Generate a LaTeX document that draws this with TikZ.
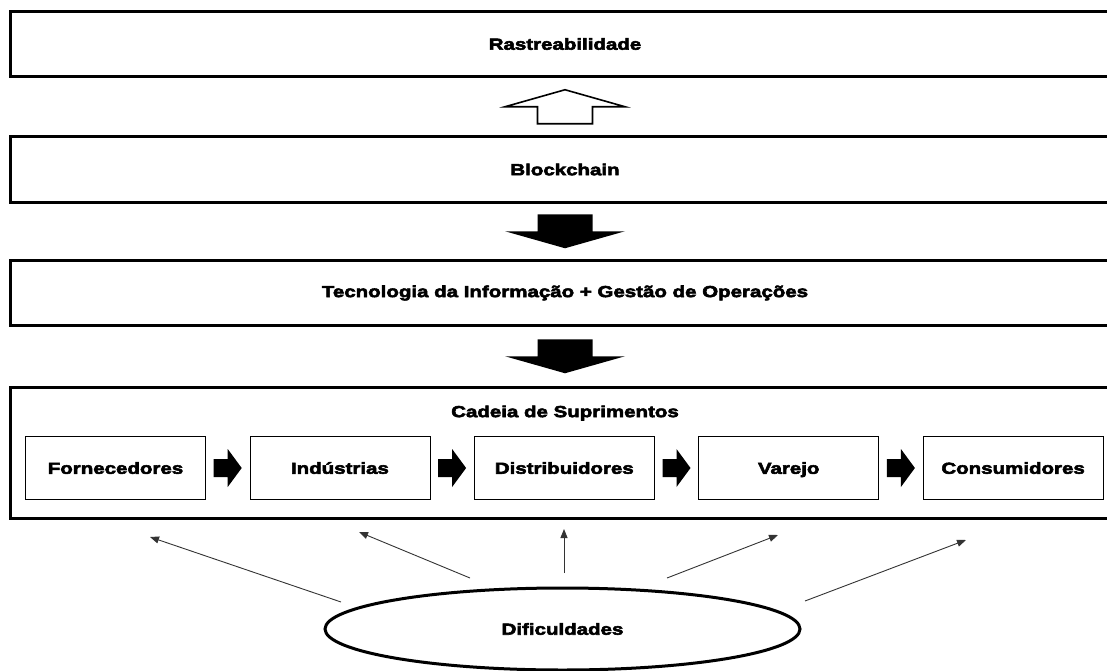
\documentclass[tikz,border=0pt]{standalone}
\usepackage{fontspec}
\setmainfont{Liberation Sans}[BoldFeatures={FakeStretch=1.28,FakeBold=3.5}]
\usetikzlibrary{shapes.geometric,arrows.meta,calc}

\tikzset{
    heavy/.style={font=\bfseries\fontsize{16}{19}\selectfont},
    bigbox/.style={draw, line width=3pt, minimum width=1110pt, minimum height=65pt, heavy},
    stagebox/.style={draw, line width=0.8pt, minimum width=180pt, minimum height=63pt, text height=11.6pt, text depth=0pt, heavy},
    tinyarrow/.style={draw=black!80, line width=0.9pt, -{Triangle[length=9pt,width=7pt]}},
}

\begin{document}
\begin{tikzpicture}[x=1pt, y=-1pt]
    \clip (0,0) rectangle (1107,671);

    % the layers, top to bottom
    \node[bigbox] (rast) at (565,44) {Rastreabilidade};
    \node[bigbox] (block) at (565,169.5) {Blockchain};
    \node[bigbox] (tec) at (565,293) {Tecnologia da Informação + Gestão de Operações};
    \node[bigbox, minimum height=131pt] (chain) at (565,452.5) {};
    \node[heavy] (cadeia) at (565,413) {Cadeia de Suprimentos};

    % hollow arrow up, solid arrows down
    \draw[fill=white, line width=1.6pt] ($(rast.south)!0.5!(block.north)$)
        ++(0,-17) -- ++(60,17) -- ++(-32.5,0) -- ++(0,17) -- ++(-55,0) -- ++(0,-17) -- ++(-32.5,0) -- cycle;
    \foreach \a/\b in {block/tec, tec/chain}
        \fill ($(\a.south)!0.5!(\b.north)$)
            ++(-27.5,-17) -- ++(55,0) -- ++(0,17) -- ++(32.5,0) -- ++(-60,17) -- ++(-60,-17) -- ++(32.5,0) -- cycle;

    % stages of the chain
    \foreach \n/\t [count=\i from 0] in {forn/Fornecedores, ind/Indústrias, dist/Distribuidores, var/Varejo, cons/Consumidores}
        \node[stagebox] (\n) at (115.5+224.4*\i,468) {\t};
    \foreach \a/\b in {forn/ind, ind/dist, dist/var, var/cons}
        \fill ($(\a.east)!0.5!(\b.west)$)
            ++(-14,-9) -- ++(14,0) -- ++(0,-10) -- ++(14,19) -- ++(-14,19) -- ++(0,-10) -- ++(-14,0) -- cycle;

    % difficulties
    \node[ellipse, draw, line width=3pt, minimum width=475pt, minimum height=82pt, heavy] (dif) at (562.5,629) {Dificuldades};
    \coordinate (d1) at (341,602);  \coordinate (t1) at (150,537);
    \coordinate (d2) at (470,578);  \coordinate (t2) at (359,532);
    \coordinate (d3) at (564,573);  \coordinate (t3) at (564,529);
    \coordinate (d4) at (667,578);  \coordinate (t4) at (778,535);
    \coordinate (d5) at (805,601);  \coordinate (t5) at (966,540);
    \foreach \i in {1,...,5}
        \draw[tinyarrow] (d\i) -- (t\i);
\end{tikzpicture}
\end{document}
